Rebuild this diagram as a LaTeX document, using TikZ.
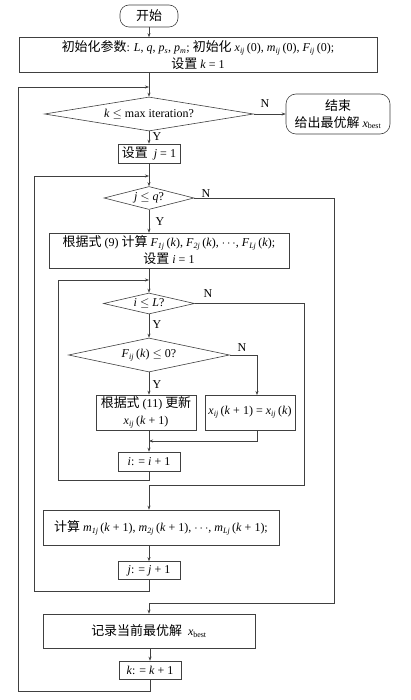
\documentclass[tikz,border=0pt]{standalone}
\usepackage{fontspec}
\setmainfont{Liberation Serif}
\newfontfamily\cjk[Scale=1.08]{Noto Sans CJK SC}
\usetikzlibrary{shapes.geometric,arrows.meta}
\newcommand{\zh}[1]{{\cjk #1}}
\newcommand{\iv}[1]{\textit{#1}}
\newcommand{\vs}[2]{\textit{#1}\textsubscript{\textit{#2}}}
\newcommand{\xb}{\textit{x}\textsubscript{best}}
\begin{document}
\begin{tikzpicture}[x=1pt,y=-1pt,
  every node/.style={font=\fontsize{12}{17}\selectfont},
  line/.style={draw=black!75,line width=0.6pt},
  arr/.style={line,-{Stealth[length=4pt,width=3pt]}},
  box/.style={line,rectangle,inner sep=0pt,align=center},
  dia/.style={line,diamond,inner sep=0pt},
  lbl/.style={inner sep=0pt,font=\fontsize{12}{12}\selectfont}]
\useasboundingbox (0,0) rectangle (410,700);
\fill[white] (0,0) rectangle (410,700);

\node[box,rounded corners=9pt,minimum width=58,minimum height=22] (start) at (149,16) {\zh{开始}};
\node[box,minimum width=358,minimum height=35] (init) at (198,55) {\zh{初始化参数}: \iv{L}, \iv{q}, \vs{p}{s}, \vs{p}{m}; \zh{初始化} \vs{x}{ij}\,(0), \vs{m}{ij}\,(0), \vs{F}{ij}\,(0);\\\zh{设置} \iv{k} = 1};
\node[dia,minimum width=209,minimum height=34,aspect=6.1] (dk) at (149,114) {\iv{k} $\le$ max iteration?};
\node[box,rounded corners=10pt,minimum width=104,minimum height=40] (end) at (338,114) {\zh{结束}\\\zh{给出最优解} \xb};
\node[box,minimum width=62,minimum height=19] (j1) at (149,153.5) {\zh{设置}\ \ \iv{j} = 1};
\node[dia,minimum width=90,minimum height=23,aspect=3.9] (dj) at (149,198) {\iv{j} $\le$ \iv{q}?};
\node[box,minimum width=240,minimum height=35] (fb) at (169,250.5) {\zh{根据式} (9) \zh{计算} \vs{F}{1j}\,(\iv{k}), \vs{F}{2j}\,(\iv{k}), $\cdots$, \vs{F}{Lj}\,(\iv{k});\\\zh{设置} \iv{i} = 1};
\node[dia,minimum width=91,minimum height=21,aspect=4.3] (di) at (149,303.5) {\iv{i} $\le$ \iv{L}?};
\node[dia,minimum width=161,minimum height=34,aspect=4.7] (dF) at (149,355) {\vs{F}{ij}\,(\iv{k}) $\le$ 0?};
\node[box,minimum width=100,minimum height=35] (b11) at (146,412.5) {\zh{根据式} (11) \zh{更新}\\\vs{x}{ij}\,(\iv{k} + 1)};
\node[box,minimum width=90,minimum height=35] (bx) at (250,412.5) {\vs{x}{ij}\,(\iv{k} + 1) = \vs{x}{ij}\,(\iv{k})};
\node[box,minimum width=62,minimum height=19] (iinc) at (149,461.5) {\iv{i}: = \iv{i} + 1};
\node[box,minimum width=236,minimum height=35] (bm) at (161,527.5) {\zh{计算} \vs{m}{1j}\,(\iv{k} + 1), \vs{m}{2j}\,(\iv{k} + 1), $\cdots$, \vs{m}{Lj}\,(\iv{k} + 1);};
\node[box,minimum width=62,minimum height=18] (jinc) at (149,570.5) {\iv{j}: = \iv{j} + 1};
\node[box,minimum width=212,minimum height=34] (rec) at (149,631) {\zh{记录当前最优解}\ \ \xb};
\node[box,minimum width=62,minimum height=18] (kinc) at (150,670) {\iv{k}: = \iv{k} + 1};

% labels
\node[lbl] (nk) at (265,104) {N};
\node[lbl] (yk) at (157,137) {Y};
\node[lbl] (nj) at (206,194) {N};
\node[lbl] (yj) at (160,222) {Y};
\node[lbl] (ni) at (208,294) {N};
\node[lbl] (yi) at (157,325) {Y};
\node[lbl] (nF) at (242,348) {N};
\node[lbl] (yF) at (157,385) {Y};

% coordinates
\coordinate (kl1) at (18,691);
\coordinate (kl2) at (18,87);
\coordinate (kj) at (149,87);
\coordinate (jl1) at (34,591);
\coordinate (jl2) at (34,176);
\coordinate (jj) at (149,176);
\coordinate (jN) at (334,603);
\coordinate (jNe) at (149,603);
\coordinate (il1) at (58,480);
\coordinate (il2) at (58,280);
\coordinate (ij) at (149,280);
\coordinate (iN) at (304,485.5);
\coordinate (iNe) at (149,485.5);
\coordinate (bxd) at (257,395);
\coordinate (mg) at (149,441);

% connectors
\draw[arr] (start.south) -- (start.south |- init.north);
\draw[arr] (dk.north |- init.south) -- (dk.north);
\draw[arr] (dk.east) -- (end.west);
\draw[arr] (dk.south) -- (j1.north);
\draw[arr] (j1.south) -- (dj.north);
\draw[arr] (dj.south) -- (dj.south |- fb.north);
\draw[arr] (di.north |- fb.south) -- (di.north);
\draw[arr] (di.south) -- (dF.north);
\draw[arr] (dF.south) -- (dF.south |- b11.north);
\draw[arr] (dF.east) -| (bxd);
\draw[arr] (bxd |- bx.south) |- (mg);
\draw[arr] (iinc.north |- b11.south) -- (iinc.north);
\draw[arr] (iinc.south) |- (il1) -- (il2) -- (ij);
\draw[arr] (di.east) -| (iN) -- (iNe) -- (iNe |- bm.north);
\draw[arr] (jinc.north |- bm.south) -- (jinc.north);
\draw[arr] (jinc.south) |- (jl1) -- (jl2) -- (jj);
\draw[arr] (dj.east) -| (jN) -- (jNe) -- (jNe |- rec.north);
\draw[arr] (rec.south -| kinc.north) -- (kinc.north);
\draw[arr] (kinc.south) |- (kl1) -- (kl2) -- (kj);
\end{tikzpicture}
\end{document}
